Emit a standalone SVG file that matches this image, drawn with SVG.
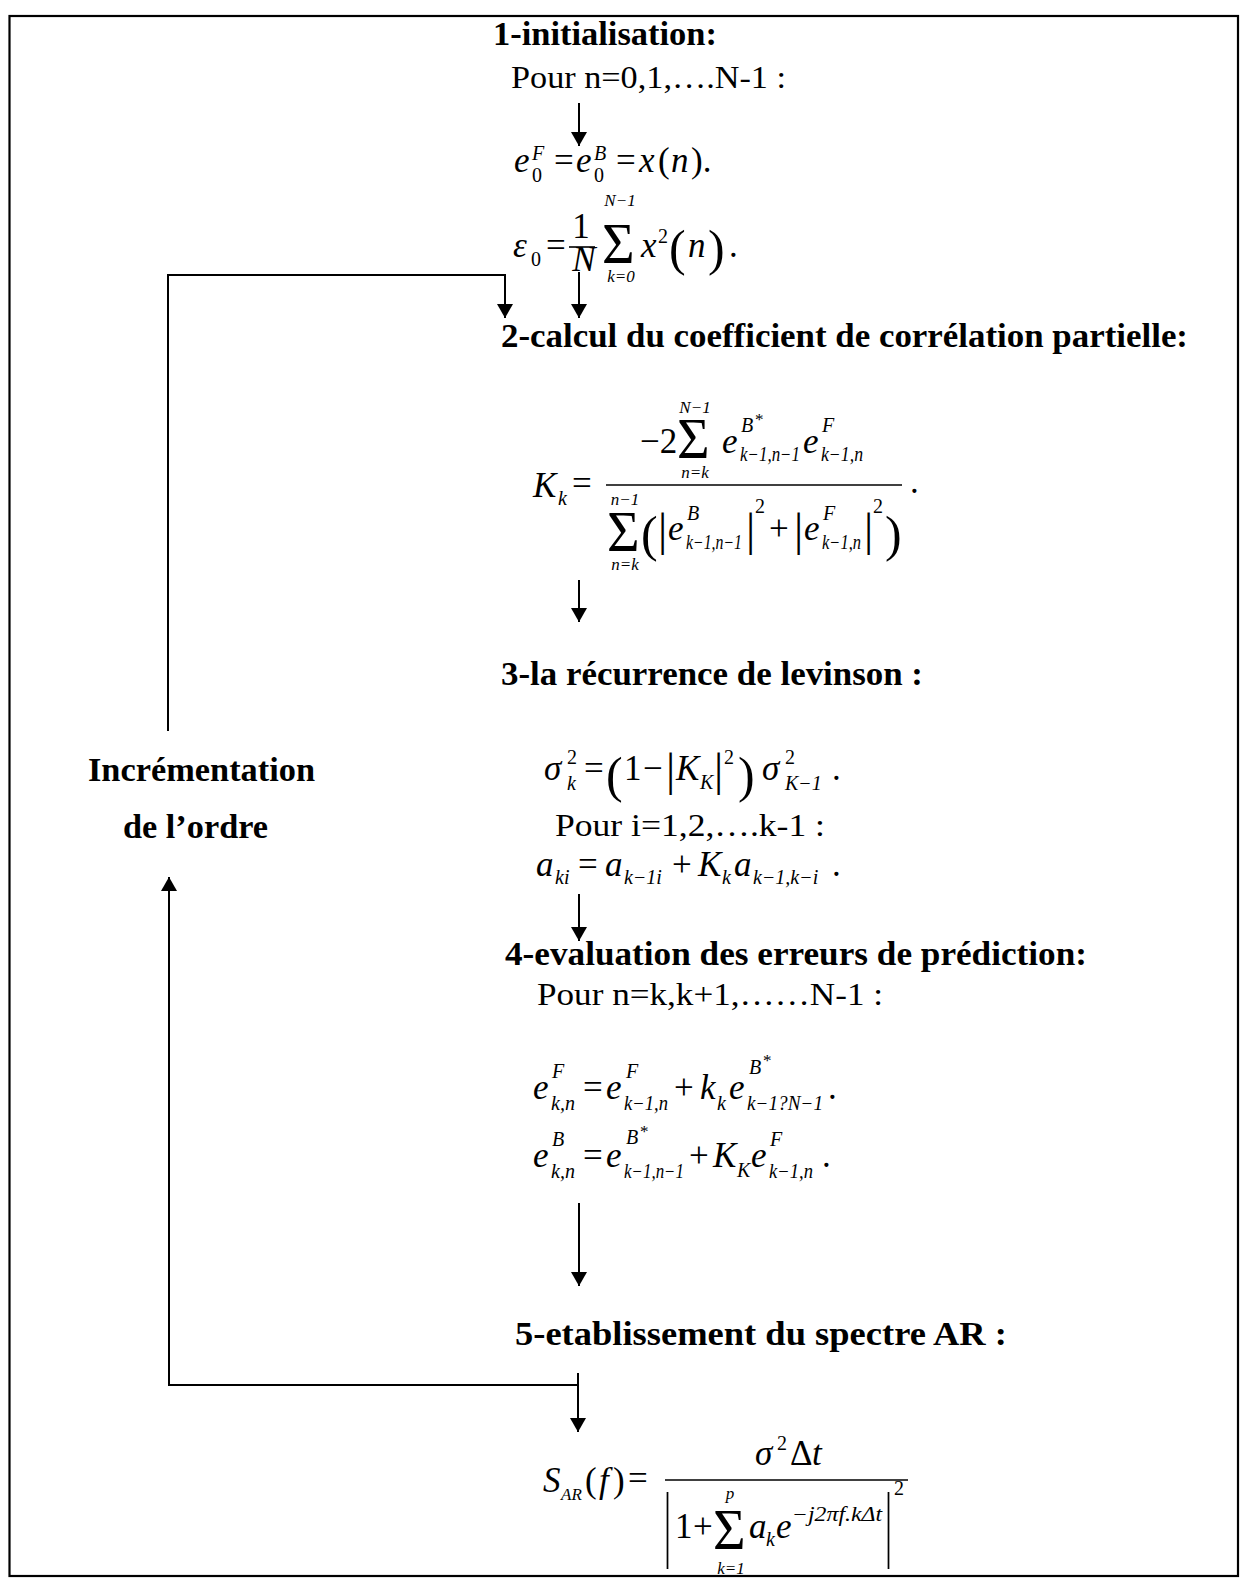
<svg xmlns="http://www.w3.org/2000/svg" width="1241" height="1578" viewBox="0 0 1241 1578">
<defs>
<marker id="ah" viewBox="0 0 14 16" refX="14" refY="8" markerWidth="14" markerHeight="16" markerUnits="userSpaceOnUse" orient="auto">
<path d="M0,0 L14,8 L0,16 z" fill="#000"/>
</marker>
<style>
text{font-family:"Liberation Serif","Times New Roman",serif;fill:#000;font-size:35px}
.h{font-weight:bold;font-size:34px}
.p{font-size:31px}
.i{font-style:italic}
.M{font-size:35px}
.S{font-size:20px}
.T{font-size:17px}
.G{font-size:56px}
.P{font-size:50px}
.B{font-size:46px}
.c{text-anchor:middle}
.ar{stroke:#000;stroke-width:2;fill:none;marker-end:url(#ah)}
.fr{stroke:#000;stroke-width:1.6}
.frame{fill:none;stroke:#000;stroke-width:2.2}
</style>
</defs>
<rect width="1241" height="1578" fill="#fff"/>
<rect class="frame" x="9.5" y="16" width="1228.5" height="1560"/>

<g id="connectors">
<line class="ar" x1="579" y1="103" x2="579" y2="146"/>
<line class="ar" x1="579" y1="272" x2="579" y2="318"/>
<polyline class="ar" points="168,731 168,275 505,275 505,318"/>
<line class="ar" x1="579" y1="580" x2="579" y2="622"/>
<line class="ar" x1="579" y1="894" x2="579" y2="941"/>
<line class="ar" x1="579" y1="1203" x2="579" y2="1286"/>
<polyline class="ar" points="578,1385 169,1385 169,877"/>
<line class="ar" x1="578" y1="1373" x2="578" y2="1432"/>
</g>

<g id="step1">
<text class="h" x="493" y="45" textLength="224" lengthAdjust="spacingAndGlyphs">1-initialisation:</text>
<text class="p" x="511" y="88" textLength="275" lengthAdjust="spacingAndGlyphs">Pour n=0,1,….N-1 :</text>
<text class="M"><tspan class="i" x="514" y="172">e</tspan><tspan class="S i" x="532" y="160">F</tspan><tspan class="S" x="532" y="182">0</tspan><tspan x="554" y="172">=</tspan><tspan class="i" x="576" y="172">e</tspan><tspan class="S i" x="594" y="160">B</tspan><tspan class="S" x="594" y="182">0</tspan><tspan x="616" y="172">=</tspan><tspan class="i" x="639" y="172">x</tspan><tspan x="658" y="172">(</tspan><tspan class="i" x="671" y="172">n</tspan><tspan x="691" y="172">).</tspan></text>
<text class="M"><tspan class="i" x="513" y="257">ε</tspan><tspan class="S" x="531" y="266">0</tspan><tspan x="546" y="257">=</tspan><tspan class="c" x="581" y="238">1</tspan><tspan class="i c" x="584" y="271">N</tspan><tspan class="G" x="602" y="263">Σ</tspan><tspan class="T i c" x="620" y="206">N−1</tspan><tspan class="T i c" x="621" y="282">k=0</tspan><tspan class="i" x="641" y="257">x</tspan><tspan class="S" x="658" y="243">2</tspan><tspan class="P" x="669" y="265">(</tspan><tspan class="i" x="688" y="257">n</tspan><tspan class="P" x="708" y="265">)</tspan><tspan x="729" y="257">.</tspan></text>
<line class="fr" x1="569" y1="247" x2="595" y2="247"/>
</g>

<g id="step2">
<text class="h" x="501" y="347" textLength="687" lengthAdjust="spacingAndGlyphs">2-calcul du coefficient de corrélation partielle:</text>
<text class="M"><tspan class="i" x="533" y="497">K</tspan><tspan class="S i" x="558" y="505">k</tspan><tspan x="572" y="495">=</tspan><tspan x="640" y="453">−2</tspan><tspan class="G" x="677" y="458">Σ</tspan><tspan class="T i c" x="695" y="413">N−1</tspan><tspan class="T i c" x="695" y="478">n=k</tspan><tspan class="i" x="722" y="453">e</tspan><tspan class="S i" x="741" y="432">B</tspan><tspan class="T" x="755" y="425">*</tspan><tspan class="S i" x="740" y="461" textLength="60" lengthAdjust="spacingAndGlyphs">k−1,n−1</tspan><tspan class="i" x="803" y="453">e</tspan><tspan class="S i" x="822" y="432">F</tspan><tspan class="S i" x="821" y="461" textLength="42" lengthAdjust="spacingAndGlyphs">k−1,n</tspan><tspan class="G" x="607" y="551">Σ</tspan><tspan class="T i c" x="625" y="505">n−1</tspan><tspan class="T i c" x="625" y="570">n=k</tspan><tspan class="P" x="641" y="551">(</tspan><tspan class="B" x="658" y="545">|</tspan><tspan class="i" x="668" y="540">e</tspan><tspan class="S i" x="687" y="520">B</tspan><tspan class="S i" x="686" y="549" textLength="56" lengthAdjust="spacingAndGlyphs">k−1,n−1</tspan><tspan class="B" x="746" y="545">|</tspan><tspan class="S" x="755" y="513">2</tspan><tspan x="769" y="540">+</tspan><tspan class="B" x="794" y="545">|</tspan><tspan class="i" x="804" y="540">e</tspan><tspan class="S i" x="823" y="520">F</tspan><tspan class="S i" x="822" y="549" textLength="39" lengthAdjust="spacingAndGlyphs">k−1,n</tspan><tspan class="B" x="864" y="545">|</tspan><tspan class="S" x="873" y="513">2</tspan><tspan class="P" x="885" y="551">)</tspan><tspan x="910" y="493">.</tspan></text>
<line class="fr" x1="606" y1="485" x2="902" y2="485"/>
</g>

<g id="step3">
<text class="h" x="501" y="685" textLength="422" lengthAdjust="spacingAndGlyphs">3-la récurrence de levinson :</text>
<text class="M"><tspan class="i" x="544" y="780">σ</tspan><tspan class="S" x="567" y="764">2</tspan><tspan class="S i" x="567" y="790">k</tspan><tspan x="584" y="780">=</tspan><tspan class="P" x="606" y="792">(</tspan><tspan x="624" y="780">1</tspan><tspan x="643" y="780">−</tspan><tspan class="B" x="666" y="785">|</tspan><tspan class="i" x="676" y="780">K</tspan><tspan class="S i" x="700" y="789">K</tspan><tspan class="B" x="714" y="785">|</tspan><tspan class="S" x="724" y="764">2</tspan><tspan class="P" x="738" y="792">)</tspan><tspan class="i" x="762" y="780">σ</tspan><tspan class="S" x="785" y="764">2</tspan><tspan class="S i" x="785" y="790">K−1</tspan><tspan x="832" y="780">.</tspan></text>
<text class="p" x="555" y="836" textLength="270" lengthAdjust="spacingAndGlyphs">Pour i=1,2,….k-1 :</text>
<text class="M"><tspan class="i" x="536" y="876">a</tspan><tspan class="S i" x="555" y="884">ki</tspan><tspan x="578" y="876">=</tspan><tspan class="i" x="605" y="876">a</tspan><tspan class="S i" x="624" y="884">k−1i</tspan><tspan x="672" y="876">+</tspan><tspan class="i" x="698" y="876">K</tspan><tspan class="S i" x="722" y="884">k</tspan><tspan class="i" x="734" y="876">a</tspan><tspan class="S i" x="753" y="884">k−1,k−i</tspan><tspan x="832" y="876">.</tspan></text>
</g>

<g id="step4">
<text class="h" x="505" y="965" textLength="582" lengthAdjust="spacingAndGlyphs">4-evaluation des erreurs de prédiction:</text>
<text class="p" x="537" y="1005" textLength="346" lengthAdjust="spacingAndGlyphs">Pour n=k,k+1,……N-1 :</text>
<text class="M"><tspan class="i" x="533" y="1099">e</tspan><tspan class="S i" x="552" y="1078">F</tspan><tspan class="S i" x="551" y="1110">k,n</tspan><tspan x="583" y="1099">=</tspan><tspan class="i" x="606" y="1099">e</tspan><tspan class="S i" x="626" y="1078">F</tspan><tspan class="S i" x="624" y="1110" textLength="44" lengthAdjust="spacingAndGlyphs">k−1,n</tspan><tspan x="674" y="1099">+</tspan><tspan class="i" x="700" y="1099">k</tspan><tspan class="S i" x="717" y="1110">k</tspan><tspan class="i" x="729" y="1099">e</tspan><tspan class="S i" x="749" y="1074">B</tspan><tspan class="T" x="763" y="1066">*</tspan><tspan class="S i" x="747" y="1110" textLength="76" lengthAdjust="spacingAndGlyphs">k−1?N−1</tspan><tspan x="828" y="1099">.</tspan></text>
<text class="M"><tspan class="i" x="533" y="1167">e</tspan><tspan class="S i" x="552" y="1146">B</tspan><tspan class="S i" x="551" y="1178">k,n</tspan><tspan x="583" y="1167">=</tspan><tspan class="i" x="606" y="1167">e</tspan><tspan class="S i" x="626" y="1144">B</tspan><tspan class="T" x="640" y="1137">*</tspan><tspan class="S i" x="624" y="1178" textLength="60" lengthAdjust="spacingAndGlyphs">k−1,n−1</tspan><tspan x="689" y="1167">+</tspan><tspan class="i" x="713" y="1167">K</tspan><tspan class="S i" x="737" y="1177">K</tspan><tspan class="i" x="751" y="1167">e</tspan><tspan class="S i" x="770" y="1146">F</tspan><tspan class="S i" x="769" y="1178" textLength="44" lengthAdjust="spacingAndGlyphs">k−1,n</tspan><tspan x="822" y="1167">.</tspan></text>
</g>

<g id="step5">
<text class="h" x="515" y="1345" textLength="492" lengthAdjust="spacingAndGlyphs">5-etablissement du spectre AR :</text>
<text class="M"><tspan class="i" x="543" y="1492">S</tspan><tspan class="T i" x="561" y="1500">AR</tspan><tspan x="585" y="1492">(</tspan><tspan class="i" x="599" y="1492">f</tspan><tspan x="613" y="1492">)</tspan><tspan x="628" y="1490">=</tspan><tspan class="i" x="755" y="1465">σ</tspan><tspan class="S" x="777" y="1450">2</tspan><tspan x="790" y="1465">Δ</tspan><tspan class="i" x="812" y="1465">t</tspan><tspan x="675" y="1538">1</tspan><tspan x="693" y="1538">+</tspan><tspan class="G" x="713" y="1549">Σ</tspan><tspan class="T i c" x="730" y="1499">p</tspan><tspan class="T i c" x="731" y="1574">k=1</tspan><tspan class="i" x="749" y="1538">a</tspan><tspan class="S i" x="766" y="1546">k</tspan><tspan class="i" x="776" y="1538">e</tspan><tspan class="S i" x="792" y="1521" textLength="90" lengthAdjust="spacingAndGlyphs">−j2πf.kΔt</tspan><tspan class="S" x="894" y="1495">2</tspan></text>
<text class="M" transform="translate(664,1551) scale(1,2.4)">|</text>
<text class="M" transform="translate(885,1551) scale(1,2.4)">|</text>
<line class="fr" x1="665" y1="1480" x2="908" y2="1480"/>
</g>

<g id="loop-label">
<text class="h" x="88" y="781" textLength="227" lengthAdjust="spacingAndGlyphs">Incrémentation</text>
<text class="h" x="123" y="838" textLength="145" lengthAdjust="spacingAndGlyphs">de l’ordre</text>
</g>
</svg>
